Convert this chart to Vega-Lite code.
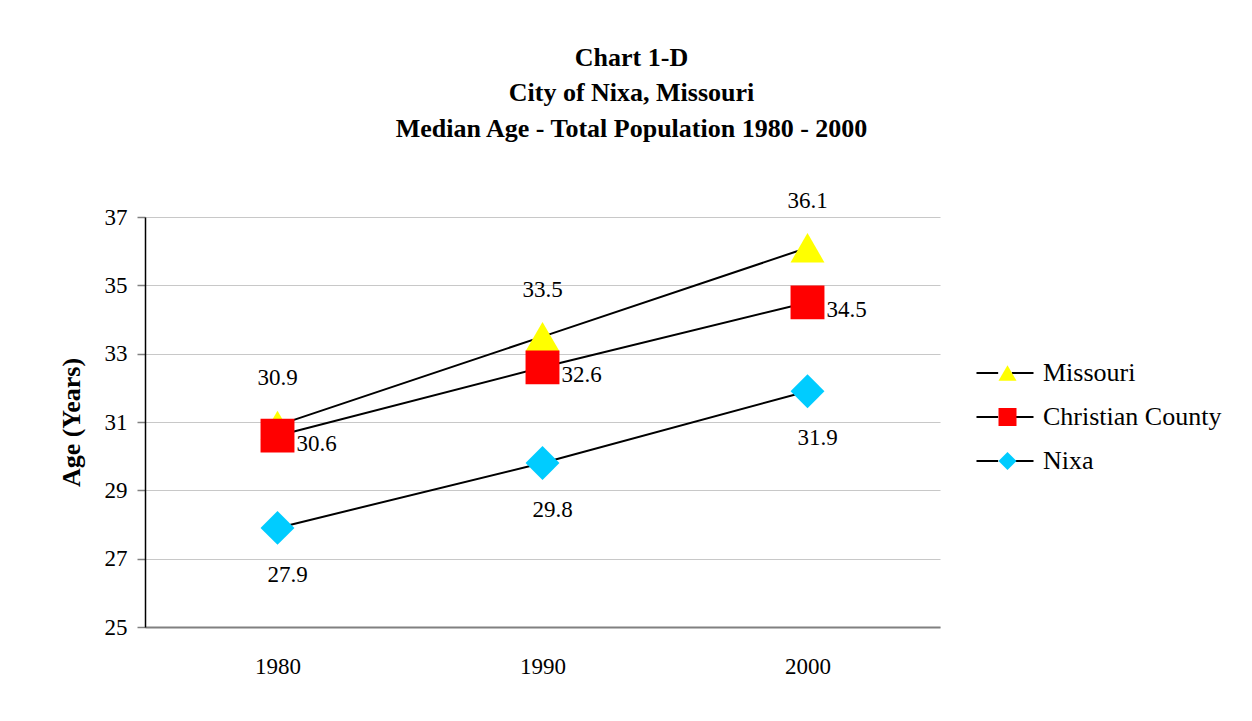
{
  "$schema": "https://vega.github.io/schema/vega-lite/v6.json",
  "width": 795,
  "height": 410,
  "autosize": {"type": "none"},
  "padding": {"left": 145, "top": 217, "right": 312, "bottom": 94},
  "background": "white",
  "config": {
    "font": "Liberation Serif",
    "view": {"stroke": null},
    "axis": {"labelFont": "Liberation Serif", "titleFont": "Liberation Serif"},
    "legend": {"labelFont": "Liberation Serif", "titleFont": "Liberation Serif"},
    "text": {"font": "Liberation Serif"}
  },
  "title": {
    "text": ["Chart 1-D", "City of Nixa, Missouri", "Median Age - Total Population 1980 - 2000"],
    "font": "Liberation Serif",
    "fontSize": 26,
    "fontWeight": "bold",
    "lineHeight": 35.5,
    "anchor": "middle",
    "dx": 89,
    "offset": 48,
    "color": "black"
  },
  "data": {
    "values": [
      {"year": "1980", "series": "Missouri", "value": 30.9},
      {"year": "1990", "series": "Missouri", "value": 33.5},
      {"year": "2000", "series": "Missouri", "value": 36.1},
      {"year": "1980", "series": "Christian County", "value": 30.6},
      {"year": "1990", "series": "Christian County", "value": 32.6},
      {"year": "2000", "series": "Christian County", "value": 34.5},
      {"year": "1980", "series": "Nixa", "value": 27.9},
      {"year": "1990", "series": "Nixa", "value": 29.8},
      {"year": "2000", "series": "Nixa", "value": 31.9}
    ]
  },
  "encoding": {
    "x": {
      "field": "year",
      "type": "ordinal",
      "scale": {"type": "point", "padding": 0.5},
      "axis": {
        "title": null,
        "labelAngle": 0,
        "labelFont": "Liberation Serif",
        "labelFontSize": 23,
        "labelColor": "black",
        "labelPadding": 28,
        "ticks": false,
        "domainColor": "#808080",
        "domainWidth": 2,
        "grid": false
      }
    },
    "y": {
      "field": "value",
      "type": "quantitative",
      "scale": {"domain": [25, 37], "nice": false, "zero": false},
      "axis": {
        "title": "Age (Years)",
        "titleFont": "Liberation Serif",
        "titleFontSize": 26,
        "titleFontWeight": "bold",
        "titleColor": "black",
        "titlePadding": 20,
        "values": [25, 27, 29, 31, 33, 35, 37],
        "labelFont": "Liberation Serif",
        "labelFontSize": 23,
        "labelColor": "black",
        "labelPadding": 10,
        "domainColor": "black",
        "domainWidth": 1.5,
        "tickColor": "#808080",
        "tickSize": 8,
        "tickWidth": 1.5,
        "grid": true,
        "gridColor": "#c8c8c8",
        "gridWidth": 1.2
      }
    }
  },
  "layer": [
    {
      "mark": {"type": "line", "strokeWidth": 2},
      "encoding": {
        "stroke": {
          "field": "series",
          "type": "nominal",
          "sort": ["Missouri", "Christian County", "Nixa"],
          "scale": {"range": ["black", "black", "black"]},
          "legend": {
            "title": null,
            "orient": "none",
            "legendX": 847,
            "legendY": 143,
            "padding": 0,
            "symbolType": "M-2.5,0L-0.6,0M0.6,0L2.5,0",
            "symbolSize": 520,
            "symbolStrokeWidth": 2,
            "symbolStrokeColor": "black",
            "labelFont": "Liberation Serif",
            "labelFontSize": 26,
            "labelColor": "black",
            "labelLimit": 400,
            "labelOffset": 25,
            "rowPadding": 18
          }
        }
      }
    },
    {
      "mark": {"type": "point", "filled": true, "opacity": 1, "strokeWidth": 0, "size": 1150},
      "encoding": {
        "fill": {
          "field": "series",
          "type": "nominal",
          "scale": {"domain": ["Missouri", "Christian County", "Nixa"], "range": ["#FFFF00", "#FF0000", "#00CCFF"]},
          "legend": {
            "title": null,
            "orient": "none",
            "legendX": 849.5,
            "legendY": 143,
            "padding": 0,
            "symbolSize": 324,
            "symbolStrokeWidth": 0,
            "symbolStrokeColor": "transparent",
            "labelFont": "Liberation Serif",
            "labelFontSize": 26,
            "labelOpacity": 0,
            "labelLimit": 400,
            "labelOffset": 25,
            "rowPadding": 18
          }
        },
        "shape": {
          "field": "series",
          "type": "nominal",
          "scale": {"domain": ["Missouri", "Christian County", "Nixa"], "range": ["triangle-up", "square", "diamond"]},
          "legend": {
            "title": null,
            "orient": "none",
            "legendX": 849.5,
            "legendY": 143,
            "padding": 0,
            "symbolSize": 324,
            "symbolStrokeWidth": 0,
            "symbolStrokeColor": "transparent",
            "labelFont": "Liberation Serif",
            "labelFontSize": 26,
            "labelOpacity": 0,
            "labelLimit": 400,
            "labelOffset": 25,
            "rowPadding": 18
          }
        }
      }
    },
    {
      "transform": [{"filter": "datum.series === 'Missouri'"}],
      "mark": {"type": "text", "font": "Liberation Serif", "fontSize": 23, "color": "black", "dy": -47, "align": "center", "baseline": "middle"},
      "encoding": {"text": {"field": "value", "type": "quantitative", "format": ".1f"}}
    },
    {
      "transform": [{"filter": "datum.series === 'Christian County'"}],
      "mark": {"type": "text", "font": "Liberation Serif", "fontSize": 23, "color": "black", "dx": 39, "dy": 8, "align": "center", "baseline": "middle"},
      "encoding": {"text": {"field": "value", "type": "quantitative", "format": ".1f"}}
    },
    {
      "transform": [{"filter": "datum.series === 'Nixa'"}],
      "mark": {"type": "text", "font": "Liberation Serif", "fontSize": 23, "color": "black", "dx": 10, "dy": 47, "align": "center", "baseline": "middle"},
      "encoding": {"text": {"field": "value", "type": "quantitative", "format": ".1f"}}
    }
  ]
}
